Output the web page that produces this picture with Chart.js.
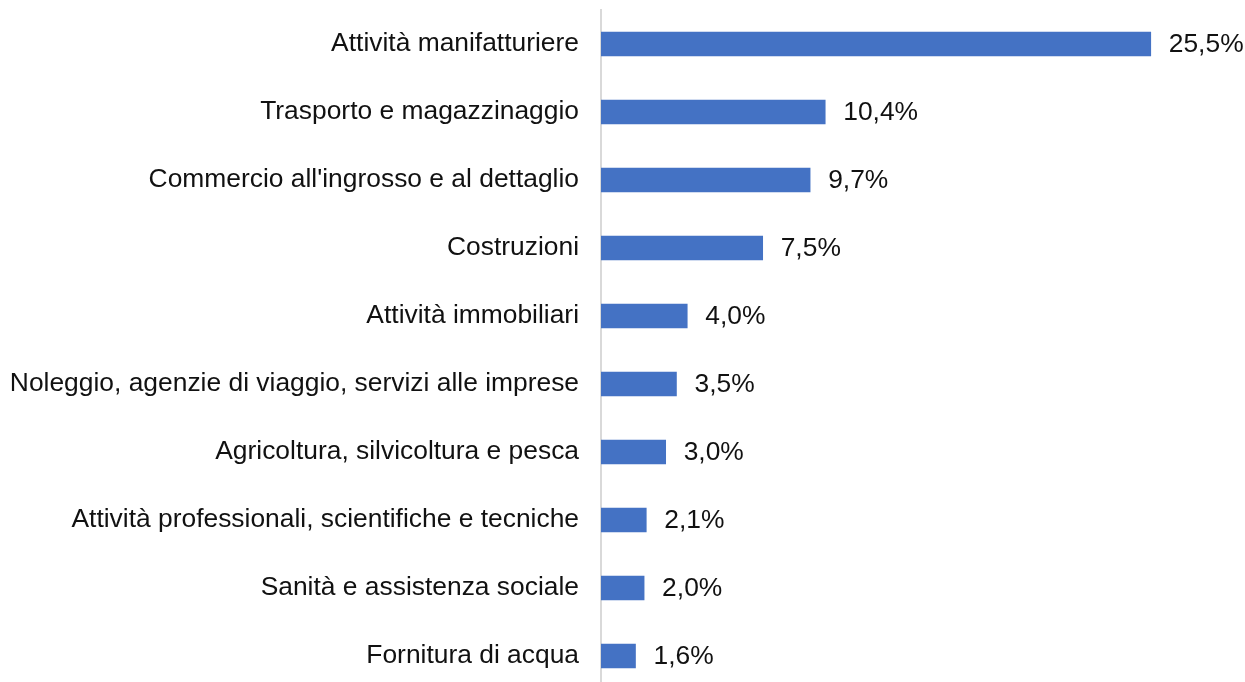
<!DOCTYPE html>
<html>
<head>
<meta charset="utf-8">
<script src="https://cdn.jsdelivr.net/npm/chart.js@4"></script>
<style>
  html, body { margin: 0; padding: 0; background: #fff; overflow: hidden; }
  #wrap { width: 1245px; height: 690px; position: relative; }
</style>
</head>
<body>
<div id="wrap"><canvas id="settori"></canvas></div>
<script>
// categorie (settori) e quote percentuali
const settori = [
    'Attività manifatturiere',
    'Trasporto e magazzinaggio',
    "Commercio all'ingrosso e al dettaglio",
    'Costruzioni',
    'Attività immobiliari',
    'Noleggio, agenzie di viaggio, servizi alle imprese',
    'Agricoltura, silvicoltura e pesca',
    'Attività professionali, scientifiche e tecniche',
    'Sanità e assistenza sociale',
    'Fornitura di acqua'
];
const quote = [25.5, 10.4, 9.7, 7.5, 4.0, 3.5, 3.0, 2.1, 2.0, 1.6];

const testo = '#111111';
const carattere = '"Liberation Sans", Arial, sans-serif';

// etichette dei valori a destra delle barre
const etichetteValori = {
    id: 'etichetteValori',
    afterDatasetsDraw(chart) {
        const ctx = chart.ctx;
        const meta = chart.getDatasetMeta(0);
        ctx.save();
        ctx.font = '26.4px ' + carattere;
        ctx.fillStyle = testo;
        ctx.textAlign = 'left';
        ctx.textBaseline = 'middle';
        meta.data.forEach((bar, i) => {
            const txt = quote[i].toFixed(1).replace('.', ',') + '%';
            ctx.fillText(txt, bar.x + 18, bar.y + 1);
        });
        ctx.restore();
    }
};

new Chart(document.getElementById('settori'), {
    type: 'bar',
    data: {
        labels: settori,
        datasets: [{
            data: quote,
            backgroundColor: '#4472c4',
            barThickness: 24
        }]
    },
    options: {
        indexAxis: 'y',
        responsive: true,
        maintainAspectRatio: false,
        animation: false,
        layout: { padding: { top: 10, right: 8, bottom: 0, left: 0 } },
        plugins: {
            legend: { display: false },
            tooltip: { enabled: false }
        },
        scales: {
            x: {
                display: false,
                min: 0,
                max: 29.5
            },
            y: {
                afterFit(scale) {
                    scale.width = 601;
                    scale.paddingTop = 0;
                    scale.paddingBottom = 0;
                },
                grid: { display: false, drawTicks: true, tickLength: 22 },
                border: { display: true, color: '#d9d9d9', width: 2 },
                ticks: {
                    padding: 0,
                    color: testo,
                    font: { size: 26.4, family: carattere }
                }
            }
        }
    },
    plugins: [etichetteValori]
});
</script>
</body>
</html>
